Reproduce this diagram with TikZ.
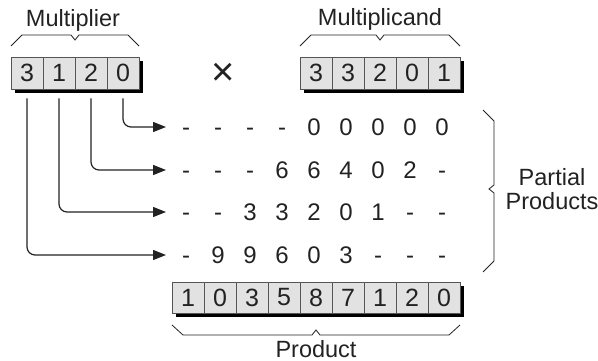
\documentclass[tikz,border=0pt]{standalone}
\usepackage{fontspec}
\setmainfont{Liberation Sans}
\usetikzlibrary{arrows.meta}
\definecolor{ink}{HTML}{222222}
\definecolor{cellfill}{HTML}{E2E2E2}
\definecolor{cellline}{HTML}{555555}
\begin{document}
\begin{tikzpicture}[x=1pt,y=-1pt,
  cell/.style={draw=cellline, fill=cellfill, minimum width=32pt, minimum height=32pt, inner sep=0pt, line width=0.8pt, text=ink, font=\fontsize{25}{25}\selectfont},
  shadowbox/.style={fill=black},
  digit/.style={inner sep=0pt, text height=17pt, text depth=0pt, text=ink, font=\fontsize{24}{24}\selectfont},
  lbl/.style={inner sep=0pt, text=ink, font=\fontsize{23.5}{23.5}\selectfont},
  brace/.style={draw=ink, line width=0.8pt},
  conn/.style={draw=ink, line width=1.2pt, rounded corners=8pt, -{Triangle[length=13pt,width=10pt]}}
]
\useasboundingbox (0,0) rectangle (598,361);

% shadows
\fill[shadowbox] (15,61) rectangle (143,93);
\fill[shadowbox] (304,61) rectangle (464,93);
\fill[shadowbox] (176,286) rectangle (464,317);

% multiplier
\foreach \d [count=\i from 0] in {3,1,2,0}
  \node[cell] (mr\i) at (27+32*\i,73) {\d};
% multiplicand
\foreach \d [count=\i from 0] in {3,3,2,0,1}
  \node[cell] (md\i) at (316+32*\i,73) {\d};
% product
\foreach \d [count=\i from 0] in {1,0,3,5,8,7,1,2,0}
  \node[cell, minimum height=31pt] (p\i) at (188+32*\i,297.5) {\d};

% labels
\node[lbl] (lmr) at (73,20) {Multiplier};
\node[lbl] (lmd) at (380,19) {Multiplicand};
\node[lbl] (lp) at (316,349) {Product};
\node[lbl, align=center] (lpp) at (552,189) {Partial\\[0pt]Products};
\node[inner sep=0pt, text=ink, font=\fontsize{40}{40}\selectfont] (times) at (223,74) {×};

% braces
\draw[brace] (11,46) -- (22,35) -- (71,35) -- (75,40) -- (79,35) -- (128,35) -- (139,46);
\draw[brace] (300,46) -- (311,35) -- (376,35) -- (380,40) -- (384,35) -- (449,35) -- (460,46);
\draw[brace] (172,325) -- (183,335) -- (312,335) -- (316,330) -- (320,335) -- (449,335) -- (460,325);
\draw[brace] (483,110) -- (494,121) -- (494,185) -- (489,189) -- (494,193) -- (494,261) -- (483,272);

% partial product rows
\foreach \d [count=\c from 0] in {-,-,-,-,0,0,0,0,0}
  \node[digit] (ra\c) at (186+32*\c,127) {\d};
\foreach \d [count=\c from 0] in {-,-,-,6,6,4,0,2,-}
  \node[digit] (rb\c) at (186+32*\c,170) {\d};
\foreach \d [count=\c from 0] in {-,-,3,3,2,0,1,-,-}
  \node[digit] (rc\c) at (186+32*\c,212) {\d};
\foreach \d [count=\c from 0] in {-,9,9,6,0,3,-,-,-}
  \node[digit] (rd\c) at (186+32*\c,255) {\d};

% connectors
\draw[conn] ([yshift=-9pt]mr3.south) |- ([xshift=-20pt]ra0.center);
\draw[conn] ([yshift=-9pt]mr2.south) |- ([xshift=-20pt]rb0.center);
\draw[conn] ([yshift=-9pt]mr1.south) |- ([xshift=-20pt]rc0.center);
\draw[conn] ([yshift=-9pt]mr0.south) |- ([xshift=-20pt]rd0.center);
\end{tikzpicture}
\end{document}
